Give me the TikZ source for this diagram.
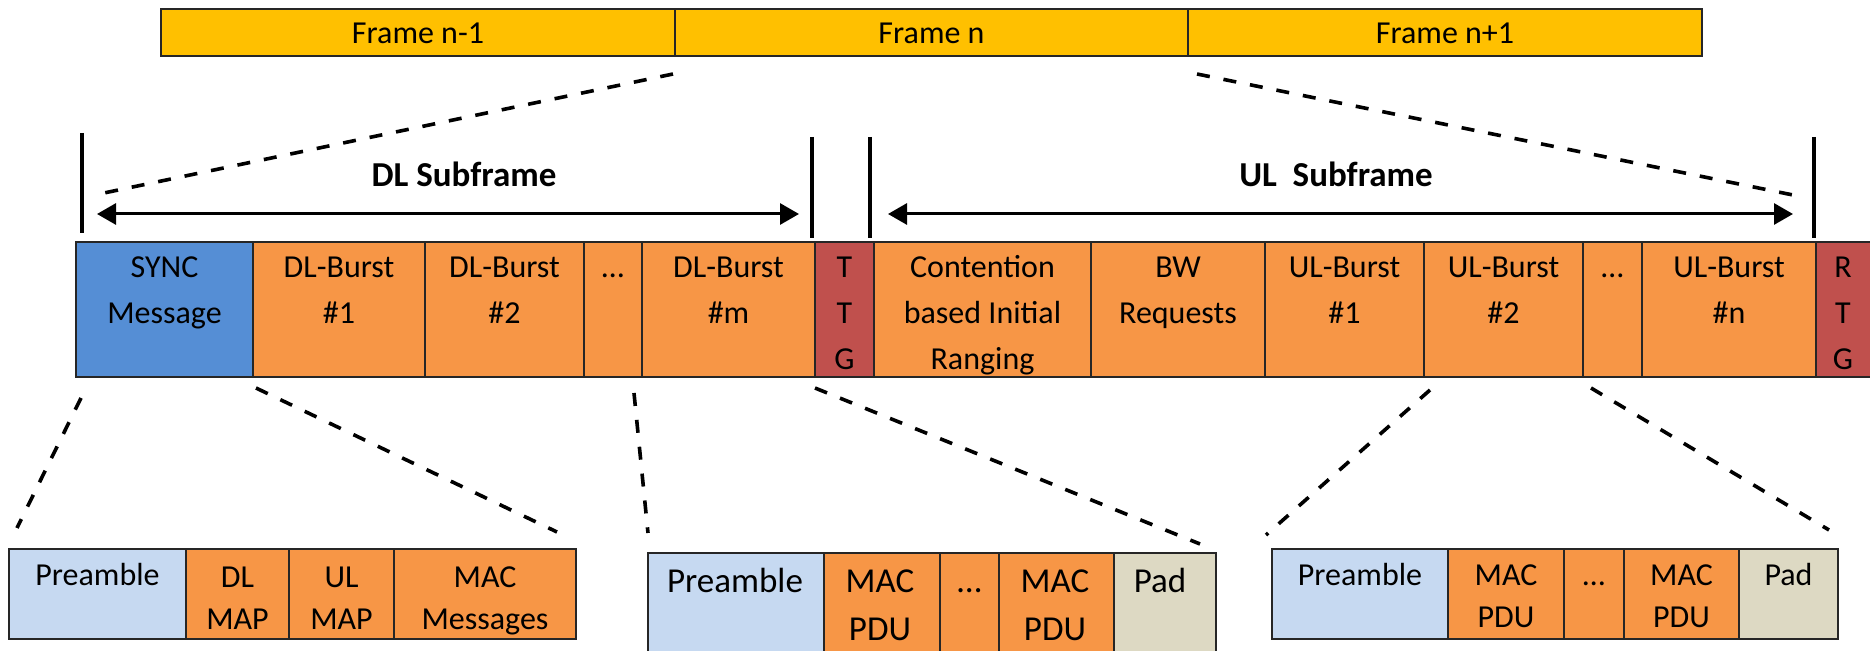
\documentclass[tikz,border=0pt]{standalone}
\usepackage{fontspec}
\setmainfont{Carlito}
\usetikzlibrary{arrows.meta}
\definecolor{frameY}{HTML}{FFC000}
\definecolor{syncB}{HTML}{558ED5}
\definecolor{burstO}{HTML}{F79646}
\definecolor{gapR}{HTML}{C0504D}
\definecolor{preB}{HTML}{C6D9F1}
\definecolor{padG}{HTML}{DDD9C3}
\newcommand\fst{\rule{0pt}{0.8em}}
\newcommand\cellbox[6]{\node[cellsty, fill=#6, minimum width={(#3-#2)*0.5pt}, minimum height={(#5-#4)*0.5pt}, anchor=north west] (#1) at (#2,#4) {};}
\begin{document}
\begin{tikzpicture}[x=0.5pt, y=-0.5pt,
  cellsty/.style={draw=black!85, line width=0.6pt, inner sep=0pt, outer sep=0pt},
  mtxt/.style={font=\fontsize{16}{23}\selectfont, align=center, inner sep=0pt, anchor=north},
  btxt/.style={font=\fontsize{16}{21}\selectfont, align=center, inner sep=0pt, anchor=north},
  ctxt/.style={font=\fontsize{17.5}{24}\selectfont, align=center, inner sep=0pt, anchor=north},
  stxt/.style={font=\bfseries\fontsize{17.5}{21}\selectfont, inner sep=0pt, anchor=north},
  vbar/.style={line width=2.2pt},
  span/.style={line width=1.5pt, {Triangle[length=9.5pt,width=10.5pt]}-{Triangle[length=9.5pt,width=10.5pt]}},
  zoomline/.style={line width=1.8pt, dash pattern=on 6.5pt off 7pt},
]
\useasboundingbox (0,0) rectangle (1870,651);
\begin{scope}
\clip (0,0) rectangle (1870,651);
% top frame bar
\cellbox{fa}{161}{675}{9}{56}{frameY}
\cellbox{fb}{675}{1188}{9}{56}{frameY}
\cellbox{fc}{1188}{1702}{9}{56}{frameY}
\node[mtxt] (fat) at (418,17.4) {\fst Frame n-1};
\node[mtxt] (fbt) at (931.5,17.4) {\fst Frame n};
\node[mtxt] (fct) at (1445,17.4) {\fst Frame n+1};
% subframe markers
\coordinate (v1t) at (82,133); \coordinate (v1b) at (82,233);
\coordinate (v2t) at (812,137); \coordinate (v2b) at (812,238);
\coordinate (v3t) at (870,137); \coordinate (v3b) at (870,238);
\coordinate (v4t) at (1814,137); \coordinate (v4b) at (1814,238);
\draw[vbar] (v1t) -- (v1b);
\draw[vbar] (v2t) -- (v2b);
\draw[vbar] (v3t) -- (v3b);
\draw[vbar] (v4t) -- (v4b);
\coordinate (dlL) at (97,214); \coordinate (dlR) at (799,214);
\coordinate (ulL) at (888,214); \coordinate (ulR) at (1793,214);
\draw[span] (dlL) -- (dlR);
\draw[span] (ulL) -- (ulR);
\node[stxt] (dls) at (464,158) {\fst DL Subframe};
\node[stxt] (uls) at (1336,158) {\fst UL~~Subframe};
% main row
\cellbox{sync}{76}{253}{242}{377}{syncB}
\cellbox{dla}{253}{425}{242}{377}{burstO}
\cellbox{dlb}{425}{584}{242}{377}{burstO}
\cellbox{dld}{584}{642}{242}{377}{burstO}
\cellbox{dlm}{642}{815}{242}{377}{burstO}
\cellbox{ttg}{815}{874}{242}{377}{gapR}
\cellbox{cir}{874}{1091}{242}{377}{burstO}
\cellbox{bwr}{1091}{1265}{242}{377}{burstO}
\cellbox{ula}{1265}{1424}{242}{377}{burstO}
\cellbox{ulb}{1424}{1583}{242}{377}{burstO}
\cellbox{uld}{1583}{1642}{242}{377}{burstO}
\cellbox{uln}{1642}{1816}{242}{377}{burstO}
\cellbox{rtg}{1816}{1880}{242}{377}{gapR}
\node[mtxt] (synct) at (164.5,251.4) {\fst SYNC\\Message};
\node[mtxt] (dlat) at (339,251.4) {\fst DL-Burst\\\#1};
\node[mtxt] (dlbt) at (504.5,251.4) {\fst DL-Burst\\\#2};
\node[mtxt] (dldt) at (613,251.4) {\fst …};
\node[mtxt] (dlmt) at (728.5,251.4) {\fst DL-Burst\\\#m};
\node[mtxt] (ttgt) at (844.5,251.4) {\fst T\\T\\G};
\node[mtxt] (cirt) at (982.5,251.4) {\fst Contention\\based Initial\\Ranging};
\node[mtxt] (bwrt) at (1178,251.4) {\fst BW\\Requests};
\node[mtxt] (ulat) at (1344.5,251.4) {\fst UL-Burst\\\#1};
\node[mtxt] (ulbt) at (1503.5,251.4) {\fst UL-Burst\\\#2};
\node[mtxt] (uldt) at (1612.5,251.4) {\fst …};
\node[mtxt] (ulnt) at (1729,251.4) {\fst UL-Burst\\\#n};
\node[mtxt] (rtgt) at (1843,251.4) {\fst R\\T\\G};
% bottom box 1
\cellbox{pa}{9}{186}{549}{639}{preB}
\cellbox{dlmap}{186}{289}{549}{639}{burstO}
\cellbox{ulmap}{289}{394}{549}{639}{burstO}
\cellbox{macm}{394}{576}{549}{639}{burstO}
\node[btxt] (pat) at (97.5,559.4) {\fst Preamble};
\node[btxt] (dlmapt) at (237.5,561.4) {\fst DL\\MAP};
\node[btxt] (ulmapt) at (341.5,561.4) {\fst UL\\MAP};
\node[btxt] (macmt) at (485,561.4) {\fst MAC\\Messages};
% bottom box 2
\cellbox{pb}{648}{824}{553}{655}{preB}
\cellbox{mpa}{824}{940}{553}{655}{burstO}
\cellbox{mpd}{940}{999}{553}{655}{burstO}
\cellbox{mpb}{999}{1114}{553}{655}{burstO}
\cellbox{padb}{1114}{1216}{553}{655}{padG}
\node[ctxt] (pbt) at (735,564) {\fst Preamble};
\node[ctxt] (mpat) at (880,564) {\fst MAC\\PDU};
\node[ctxt] (mpdt) at (969.5,564) {\fst …};
\node[ctxt] (mpbt) at (1055,564) {\fst MAC\\PDU};
\node[ctxt] (padbt) at (1160,564) {\fst Pad};
% bottom box 3
\cellbox{pc}{1272}{1448}{549}{639}{preB}
\cellbox{mpc}{1448}{1564}{549}{639}{burstO}
\cellbox{mpe}{1564}{1624}{549}{639}{burstO}
\cellbox{mpf}{1624}{1739}{549}{639}{burstO}
\cellbox{padc}{1739}{1838}{549}{639}{padG}
\node[btxt] (pct) at (1360,559.4) {\fst Preamble};
\node[btxt] (mpct) at (1506,559.4) {\fst MAC\\PDU};
\node[btxt] (mpet) at (1594,559.4) {\fst …};
\node[btxt] (mpft) at (1681.5,559.4) {\fst MAC\\PDU};
\node[btxt] (padct) at (1788.5,559.4) {\fst Pad};
% dashed zoom lines
\coordinate (d1a) at (673,74);   \coordinate (d1b) at (104,193);
\coordinate (d2a) at (1197,74);  \coordinate (d2b) at (1793,195);
\coordinate (d3a) at (81,398);   \coordinate (d3b) at (17,528);
\coordinate (d4a) at (256,388);  \coordinate (d4b) at (557,532);
\coordinate (d5a) at (634,393);  \coordinate (d5b) at (648,533);
\coordinate (d6a) at (815,388);  \coordinate (d6b) at (1200,544);
\coordinate (d7a) at (1430,390); \coordinate (d7b) at (1266,535);
\coordinate (d8a) at (1591,388); \coordinate (d8b) at (1829,530);
\draw[zoomline] (d1a) -- (d1b);
\draw[zoomline] (d2a) -- (d2b);
\draw[zoomline] (d3a) -- (d3b);
\draw[zoomline] (d4a) -- (d4b);
\draw[zoomline] (d5a) -- (d5b);
\draw[zoomline] (d6a) -- (d6b);
\draw[zoomline] (d7a) -- (d7b);
\draw[zoomline] (d8a) -- (d8b);
\end{scope}
\end{tikzpicture}
\end{document}
